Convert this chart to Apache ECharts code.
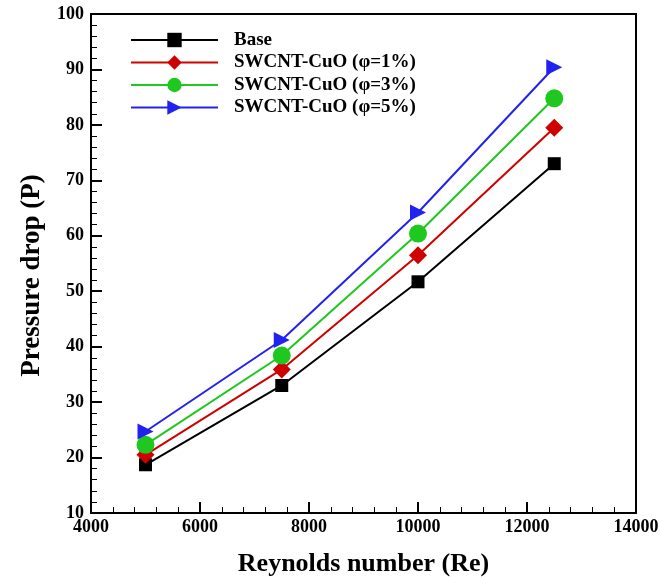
<!DOCTYPE html>
<html>
<head>
<meta charset="utf-8">
<script src="https://cdn.jsdelivr.net/npm/echarts@6/dist/echarts.min.js"></script>
<style>
  html, body { margin: 0; padding: 0; background: #fff; }
  #chart { width: 660px; height: 577px; }
</style>
</head>
<body>
<div id="chart"></div>
<script>
// 数据
const reynolds = [5000, 7500, 10000, 12500];
const seriesNames = ['Base', 'SWCNT-CuO (φ=1%)', 'SWCNT-CuO (φ=3%)', 'SWCNT-CuO (φ=5%)'];
const baseDrop = [18.7, 33.0, 51.7, 73.0];
const phi1Drop = [20.5, 35.9, 56.5, 79.5];
const phi3Drop = [22.3, 38.4, 60.4, 84.8];
const phi5Drop = [24.7, 41.2, 64.2, 90.4];

const serif = '"Liberation Serif", "Times New Roman", serif';
const seriesStyles = [
    { color: '#000000', symbol: 'rect', size: 13, rotate: 0 },
    { color: '#d00000', symbol: 'diamond', size: 18, rotate: 0 },
    { color: '#1ec81e', symbol: 'circle', size: 18, rotate: 0 },
    { color: '#2222ee', symbol: 'triangle', size: 16, rotate: -90 },
];
const allData = [baseDrop, phi1Drop, phi3Drop, phi5Drop];

const chart = echarts.init(document.getElementById('chart'), null, { renderer: 'canvas' });

const axisCommon = {
    axisLine: { lineStyle: { color: '#000', width: 2 } },
    axisTick: { inside: true, length: 11, lineStyle: { color: '#000', width: 2 } },
    minorTick: { show: true, splitNumber: 5, length: 6, lineStyle: { color: '#000', width: 1 } },
    splitLine: { show: false },
    axisLabel: { color: '#000', fontFamily: serif, fontWeight: 'bold', fontSize: 18, formatter: v => String(v) },
    nameTextStyle: { color: '#000', fontFamily: serif, fontWeight: 'bold', fontSize: 26 },
};

chart.setOption({
    animation: false,
    backgroundColor: '#fff',
    grid: {
        left: 91, right: 24, top: 14, bottom: 64,
        outerBoundsMode: 'none',
        show: true, borderColor: '#000', borderWidth: 2,
    },
    legend: {
        data: seriesNames,
        left: 130,
        top: 30,
        padding: 0,
        orient: 'vertical',
        itemWidth: 87,
        itemHeight: 18,
        itemGap: 2.5,
        textStyle: { color: '#000', fontFamily: serif, fontWeight: 'bold', fontSize: 19, lineHeight: 20, padding: [0, 0, 0, 11] },
    },
    xAxis: {
        type: 'value',
        min: 4000,
        max: 14000,
        interval: 2000,
        name: 'Reynolds number (Re)',
        nameLocation: 'middle',
        nameGap: 38,
        ...axisCommon,
        axisLabel: { ...axisCommon.axisLabel, margin: 5 },
    },
    yAxis: {
        type: 'value',
        min: 10,
        max: 100,
        interval: 10,
        name: 'Pressure drop (P)',
        nameLocation: 'middle',
        nameGap: 45,
        ...axisCommon,
        nameTextStyle: { ...axisCommon.nameTextStyle, fontSize: 27, padding: [0, 24, 0, 0] },
        axisLabel: { ...axisCommon.axisLabel, margin: 7 },
    },
    series: allData.map((vals, i) => {
        const st = seriesStyles[i];
        return {
            name: seriesNames[i],
            type: 'line',
            data: reynolds.map((x, j) => [x, vals[j]]),
            symbol: st.symbol,
            symbolSize: st.size,
            symbolRotate: st.rotate,
            lineStyle: { color: st.color, width: 2 },
            itemStyle: { color: st.color },
        };
    }),
});
</script>
</body>
</html>
